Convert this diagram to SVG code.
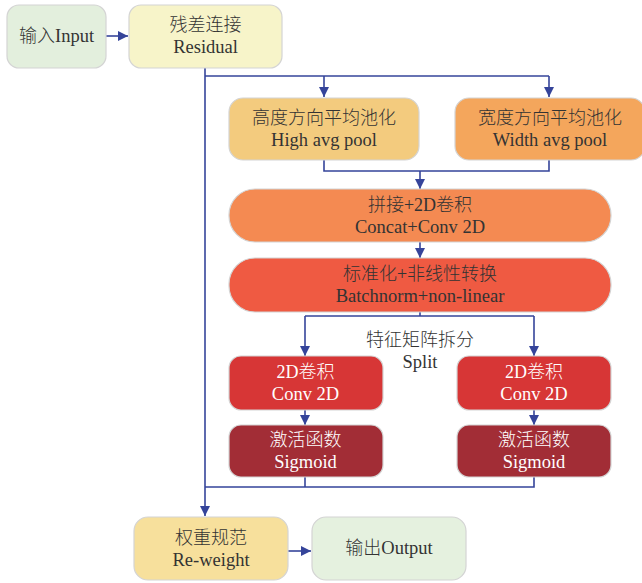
<svg xmlns="http://www.w3.org/2000/svg" width="642" height="583" viewBox="0 0 642 583">
<defs>
<marker id="ah" viewBox="0 0 10 10" refX="10" refY="5" markerWidth="10" markerHeight="10" markerUnits="userSpaceOnUse" orient="auto">
<path d="M0,0 L10,5 L0,10 Z" fill="#35449a"/>
</marker>
</defs>
<style>
.box{stroke:#d4d4d4;stroke-width:1.2}
.t{font-family:"Liberation Serif","Noto Sans CJK SC",serif;font-size:18.5px;fill:#333;text-anchor:middle}
.c{font-size:18px;font-weight:300}
.w{fill:#fff}
.ln{fill:none;stroke:#35449a;stroke-width:1.6}
</style>
<rect width="642" height="583" fill="#fff"/>
<g id="connectors">
<path class="ln" d="M106,36 H128" marker-end="url(#ah)"/>
<path class="ln" d="M205,68 V516" marker-end="url(#ah)"/>
<path class="ln" d="M205,76 H549"/>
<path class="ln" d="M324,76 V97" marker-end="url(#ah)"/>
<path class="ln" d="M549,76 V97" marker-end="url(#ah)"/>
<path class="ln" d="M324,160 V171 H549 V160"/>
<path class="ln" d="M420,171 V189" marker-end="url(#ah)"/>
<path class="ln" d="M420,242 V258" marker-end="url(#ah)"/>
<path class="ln" d="M420,312 V316"/>
<path class="ln" d="M305,316 H534"/>
<path class="ln" d="M305,316 V356" marker-end="url(#ah)"/>
<path class="ln" d="M534,316 V356" marker-end="url(#ah)"/>
<path class="ln" d="M305,410 V425" marker-end="url(#ah)"/>
<path class="ln" d="M534,410 V425" marker-end="url(#ah)"/>
<path class="ln" d="M305,477 V487"/>
<path class="ln" d="M534,477 V487 H205"/>
<path class="ln" d="M288,551 H311" marker-end="url(#ah)"/>
</g>
<g id="input">
<rect class="box" x="7" y="5" width="99" height="63" rx="12" fill="#e3efdd"/>
<text class="t" x="56.5" y="42"><tspan class="c">输入</tspan>Input</text>
</g>
<g id="residual">
<rect class="box" x="129" y="5" width="153" height="63" rx="12" fill="#f7f4c9"/>
<text class="t c" x="205.5" y="31">残差连接</text>
<text class="t" x="205.5" y="53">Residual</text>
</g>
<g id="high">
<rect class="box" x="229" y="98" width="190" height="62" rx="14" fill="#f3cb7e"/>
<text class="t c" x="324" y="124">高度方向平均池化</text>
<text class="t" x="324" y="146">High avg pool</text>
</g>
<g id="width">
<rect class="box" x="455" y="98" width="190" height="62" rx="14" fill="#f4a65c"/>
<text class="t c" x="550" y="124">宽度方向平均池化</text>
<text class="t" x="550" y="146">Width avg pool</text>
</g>
<g id="concat">
<rect class="box" x="229" y="189" width="382" height="53" rx="26" fill="#f48a52"/>
<text class="t c" x="420" y="211">拼接+2D卷积</text>
<text class="t" x="420" y="233">Concat+Conv 2D</text>
</g>
<g id="batchnorm">
<rect class="box" x="229" y="258" width="382" height="54" rx="26" fill="#ef5a42"/>
<text class="t c" x="420" y="280">标准化+非线性转换</text>
<text class="t" x="420" y="302">Batchnorm+non-linear</text>
</g>
<g id="split">
<text class="t c" x="420" y="346">特征矩阵拆分</text>
<text class="t" x="420" y="368">Split</text>
</g>
<g id="conv-left">
<rect class="box" x="229" y="356" width="154" height="54" rx="12" fill="#d73636"/>
<text class="t c w" x="305.5" y="378">2D卷积</text>
<text class="t w" x="305.5" y="400">Conv 2D</text>
</g>
<g id="conv-right">
<rect class="box" x="457" y="356" width="154" height="54" rx="12" fill="#d73636"/>
<text class="t c w" x="534" y="378">2D卷积</text>
<text class="t w" x="534" y="400">Conv 2D</text>
</g>
<g id="sig-left">
<rect class="box" x="229" y="425" width="154" height="52" rx="12" fill="#a22d36"/>
<text class="t c w" x="305.5" y="446">激活函数</text>
<text class="t w" x="305.5" y="468">Sigmoid</text>
</g>
<g id="sig-right">
<rect class="box" x="457" y="425" width="154" height="52" rx="12" fill="#a22d36"/>
<text class="t c w" x="534" y="446">激活函数</text>
<text class="t w" x="534" y="468">Sigmoid</text>
</g>
<g id="reweight">
<rect class="box" x="134" y="517" width="154" height="63" rx="14" fill="#f7e09c"/>
<text class="t c" x="211" y="544">权重规范</text>
<text class="t" x="211" y="566">Re-weight</text>
</g>
<g id="output">
<rect class="box" x="312" y="517" width="154" height="63" rx="14" fill="#e5f1df"/>
<text class="t" x="389" y="554"><tspan class="c">输出</tspan>Output</text>
</g>
</svg>
